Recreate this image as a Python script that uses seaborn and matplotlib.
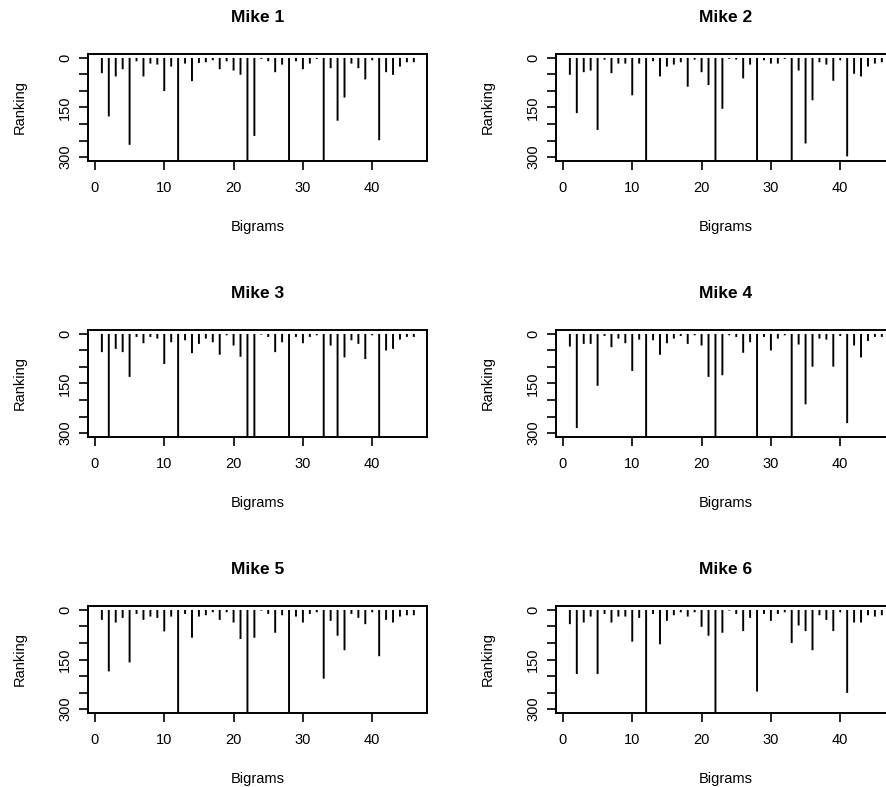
import numpy as np
import pandas as pd
import matplotlib
matplotlib.use("Agg")
import matplotlib.pyplot as plt
import seaborn as sns

bigrams = list(range(1, 47))

mike1 = [46, 177, 56, 34, 263, 10, 56, 17, 20, 100, 26, 312, 17, 70, 15, 13, 7, 34, 10, 38,
         51, 312, 236, 3, 10, 43, 20, 312, 10, 34, 17, 3, 312, 31, 190, 120, 17, 31, 65, 7,
         249, 43, 51, 26, 13, 13]
mike2 = [51, 167, 43, 38, 218, 5, 46, 17, 17, 113, 17, 312, 10, 56, 26, 20, 13, 87, 5, 43,
         82, 312, 154, 3, 5, 62, 20, 312, 7, 17, 17, 3, 312, 38, 259, 128, 13, 20, 69, 7,
         298, 48, 56, 26, 17, 13]
mike3 = [55, 312, 45, 55, 130, 9, 28, 9, 14, 91, 25, 312, 19, 58, 30, 14, 25, 63, 4, 35,
         69, 312, 312, 2, 9, 55, 25, 312, 9, 28, 9, 4, 312, 35, 312, 71, 19, 30, 76, 4,
         312, 50, 45, 17, 9, 9]
mike4 = [38, 285, 30, 30, 157, 6, 40, 14, 28, 112, 17, 312, 19, 63, 28, 14, 6, 30, 4, 35,
         130, 312, 125, 4, 9, 57, 25, 312, 9, 50, 14, 4, 312, 32, 213, 99, 14, 17, 99, 6,
         270, 35, 71, 21, 9, 9]
mike5 = [30, 186, 38, 24, 159, 12, 30, 20, 24, 65, 20, 312, 12, 84, 20, 16, 7, 30, 7, 38,
         88, 312, 84, 2, 12, 69, 16, 312, 20, 38, 12, 7, 208, 33, 78, 122, 12, 24, 43, 7,
         140, 30, 38, 20, 16, 16]
mike6 = [43, 194, 38, 20, 194, 12, 38, 20, 20, 96, 24, 312, 12, 104, 33, 16, 7, 20, 7, 51,
         78, 312, 69, 2, 12, 64, 24, 247, 12, 33, 12, 7, 100, 47, 64, 122, 16, 30, 64, 7,
         251, 38, 38, 16, 20, 16]

titles = ["Mike 1", "Mike 2", "Mike 3", "Mike 4", "Mike 5", "Mike 6"]
series = [mike1, mike2, mike3, mike4, mike5, mike6]

y_ticks = [0, 50, 100, 150, 200, 250, 300]
y_ticklabels = ["0", "", "", "150", "", "", "300"]
x_ticks = [0, 10, 20, 30, 40]
x_ticklabels = ["0", "10", "20", "30", "40"]

sns.set_style("ticks")
plt.rcParams['font.family'] = ['Liberation Sans', 'DejaVu Sans']
plt.rcParams['text.color'] = 'black'
plt.rcParams['axes.labelcolor'] = 'black'

W, H = 886, 787
fig = plt.figure(figsize=(W / 100, H / 100), dpi=100)
lefts = [88, 556]
tops = [54, 330, 606]
bw, bh = 339, 107

for i, (title, vals) in enumerate(zip(titles, series)):
    r, c = divmod(i, 2)
    ax = fig.add_axes([lefts[c] / W, 1 - (tops[r] + bh) / H, bw / W, bh / H])
    df = pd.DataFrame({"Bigrams": bigrams, "Ranking": vals})
    sns.barplot(data=df, x="Bigrams", y="Ranking", native_scale=True, width=0.28,
                color="black", saturation=1, linewidth=0,
                errorbar=None, ax=ax)
    for p in ax.patches:
        p.set_snap(False)
    ax.set_xlim(-1.0, 47.9)
    ax.set_ylim(312, -12)
    ax.set_xticks(x_ticks)
    ax.set_xticklabels(x_ticklabels)
    ax.set_yticks(y_ticks)
    ax.set_yticklabels(y_ticklabels, rotation=90, va="center")
    for s in ax.spines.values():
        s.set_visible(True)
        s.set_color("black")
        s.set_linewidth(1.4)
    ax.tick_params(axis="both", direction="out", length=6.5, width=1.2, color="black",
                   labelcolor="black", labelsize=10.5)
    ax.tick_params(axis="x", pad=8)
    ax.tick_params(axis="y", pad=5)
    ax.set_xlabel("Bigrams", fontsize=10.5, va="center")
    ax.xaxis.set_label_coords(0.5, -66 / bh)
    ax.set_ylabel("Ranking", fontsize=10.5, va="center")
    ax.yaxis.set_label_coords(-68 / bw, 0.5)
    ax.text(0.5, 1 + 36 / bh, title, transform=ax.transAxes, ha="center",
            va="center", fontsize=12.5, fontweight="bold")

fig.savefig("out.png", dpi=100)
